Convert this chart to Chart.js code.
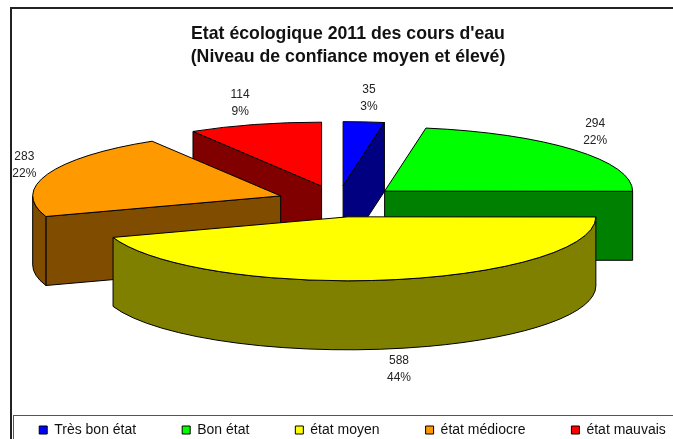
<!DOCTYPE html>
<html><head><meta charset="utf-8">
<style>html,body{margin:0;padding:0;background:#fff;overflow:hidden}#w{width:673px;height:439px;overflow:hidden}canvas{display:block}</style>
<script src="https://cdn.jsdelivr.net/npm/chart.js@4/dist/chart.umd.min.js"></script>
</head><body><div id="w"><canvas id="c" width="760" height="439"></canvas></div>
<script>
const categories = ['Très bon état','Bon état','état moyen','état médiocre','état mauvais'];
const counts = [35,294,588,283,114];
const percents = ['3%','22%','44%','22%','9%'];
const topColors = ['#0000FF','#00FF00','#FFFF00','#FF9900','#FF0000'];
const wallColors = ['#000080','#008000','#808000','#804C00','#800000'];
const titleLines = ['Etat écologique 2011 des cours d\'eau','(Niveau de confiance moyen et élevé)'];

const TILT = 0.258, DEPTH = 69, RADIUS = 248, EXPLODE = 61;
const PIE_CENTER_X = 338, PIE_CENTER_Y = 201.3;
const labelNudgeX = [3,2,7,0,-8], labelNudgeY = [1,-2,-4,0,3];

function wedge(arc){
  const a = arc.getProps(['startAngle','endAngle','outerRadius']);
  const mid = (a.startAngle+a.endAngle)/2, off = arc.options.offset;
  return {s:a.startAngle,e:a.endAngle,r:a.outerRadius,mid,
    ax:PIE_CENTER_X+off*Math.cos(mid), ay:PIE_CENTER_Y+TILT*off*Math.sin(mid)};
}
const rim = (w,t)=>[w.ax+w.r*Math.cos(t), w.ay+TILT*w.r*Math.sin(t)];
function paint(ctx,fill){ctx.fillStyle=fill;ctx.strokeStyle='#000';ctx.lineWidth=1;ctx.lineJoin='round';ctx.fill();ctx.stroke();}
function face(ctx,w,t,fill){
  const [x,y]=rim(w,t);
  ctx.beginPath();ctx.moveTo(w.ax,w.ay);ctx.lineTo(x,y);ctx.lineTo(x,y+DEPTH);ctx.lineTo(w.ax,w.ay+DEPTH);ctx.closePath();
  paint(ctx,fill);
}
const pie3d = {
  id:'pie3d',
  afterLayout(chart){
    const t=chart.titleBlock, lg=chart.legend;
    t.left-=32; t.right-=32;
    lg.left-=27.5; lg.right-=27.5; lg.top+=8; lg.bottom+=8;
  },
  beforeDatasetDraw(chart,args){
    const ctx=chart.ctx, meta=args.meta;
    const items=meta.data.map((arc,i)=>({i,w:wedge(arc)})).sort((p,q)=>p.w.ay-q.w.ay);
    items.forEach(({i,w})=>{
      const dark=wallColors[i];
      if(Math.cos(w.s)<-1e-6) face(ctx,w,w.s,dark);
      if(Math.cos(w.e)>1e-6) face(ctx,w,w.e,dark);
      const from=Math.max(w.s,0), to=Math.min(w.e,Math.PI);
      if(to>from+0.01){
        ctx.beginPath();
        ctx.ellipse(w.ax,w.ay,w.r,w.r*TILT,0,from,to);
        ctx.ellipse(w.ax,w.ay+DEPTH,w.r,w.r*TILT,0,to,from,true);
        ctx.closePath();paint(ctx,dark);
      }
      ctx.beginPath();ctx.moveTo(w.ax,w.ay);
      ctx.ellipse(w.ax,w.ay,w.r,w.r*TILT,0,w.s,w.e);
      ctx.closePath();paint(ctx,topColors[i]);
    });
    ctx.save();
    ctx.fillStyle='#222';ctx.font='12px "Liberation Sans"';ctx.textAlign='center';ctx.textBaseline='middle';
    meta.data.forEach((arc,i)=>{
      const w=wedge(arc), c=Math.cos(w.mid), sn=Math.sin(w.mid);
      const x=w.ax+1.1*w.r*c+labelNudgeX[i];
      const y=w.ay+89*sn+(sn>0?DEPTH:0)+labelNudgeY[i];
      ctx.fillText(String(counts[i]),x,y-8.5);
      ctx.fillText(percents[i],x,y+8.5);
    });
    ctx.restore();
    return false;
  }
};
const frame = {
  id:'frame',
  beforeDraw(chart){
    const ctx=chart.ctx;
    ctx.save();
    ctx.strokeStyle='#222';ctx.lineWidth=2;ctx.strokeRect(11,8,680,460);
    ctx.strokeStyle='#555';ctx.lineWidth=1;ctx.strokeRect(13.5,415.5,680,60);
    ctx.restore();
  }
};
new Chart(document.getElementById('c'),{
  type:'pie',
  data:{labels:categories,datasets:[{data:counts,backgroundColor:topColors,borderColor:'#000',borderWidth:1,offset:EXPLODE}]},
  plugins:[frame,pie3d],
  options:{
    responsive:false,animation:false,radius:RADIUS,
    layout:{padding:{top:22}},
    plugins:{
      tooltip:{enabled:false},
      title:{display:true,text:titleLines,color:'#111',font:{family:'"Liberation Sans"',size:17.7,weight:'bold',lineHeight:1.33},padding:{top:0,bottom:0}},
      legend:{position:'bottom',labels:{color:'#111',font:{family:'"Liberation Sans"',size:14},boxWidth:8,boxHeight:8,padding:46}}
    }
  }
});
</script></body></html>
